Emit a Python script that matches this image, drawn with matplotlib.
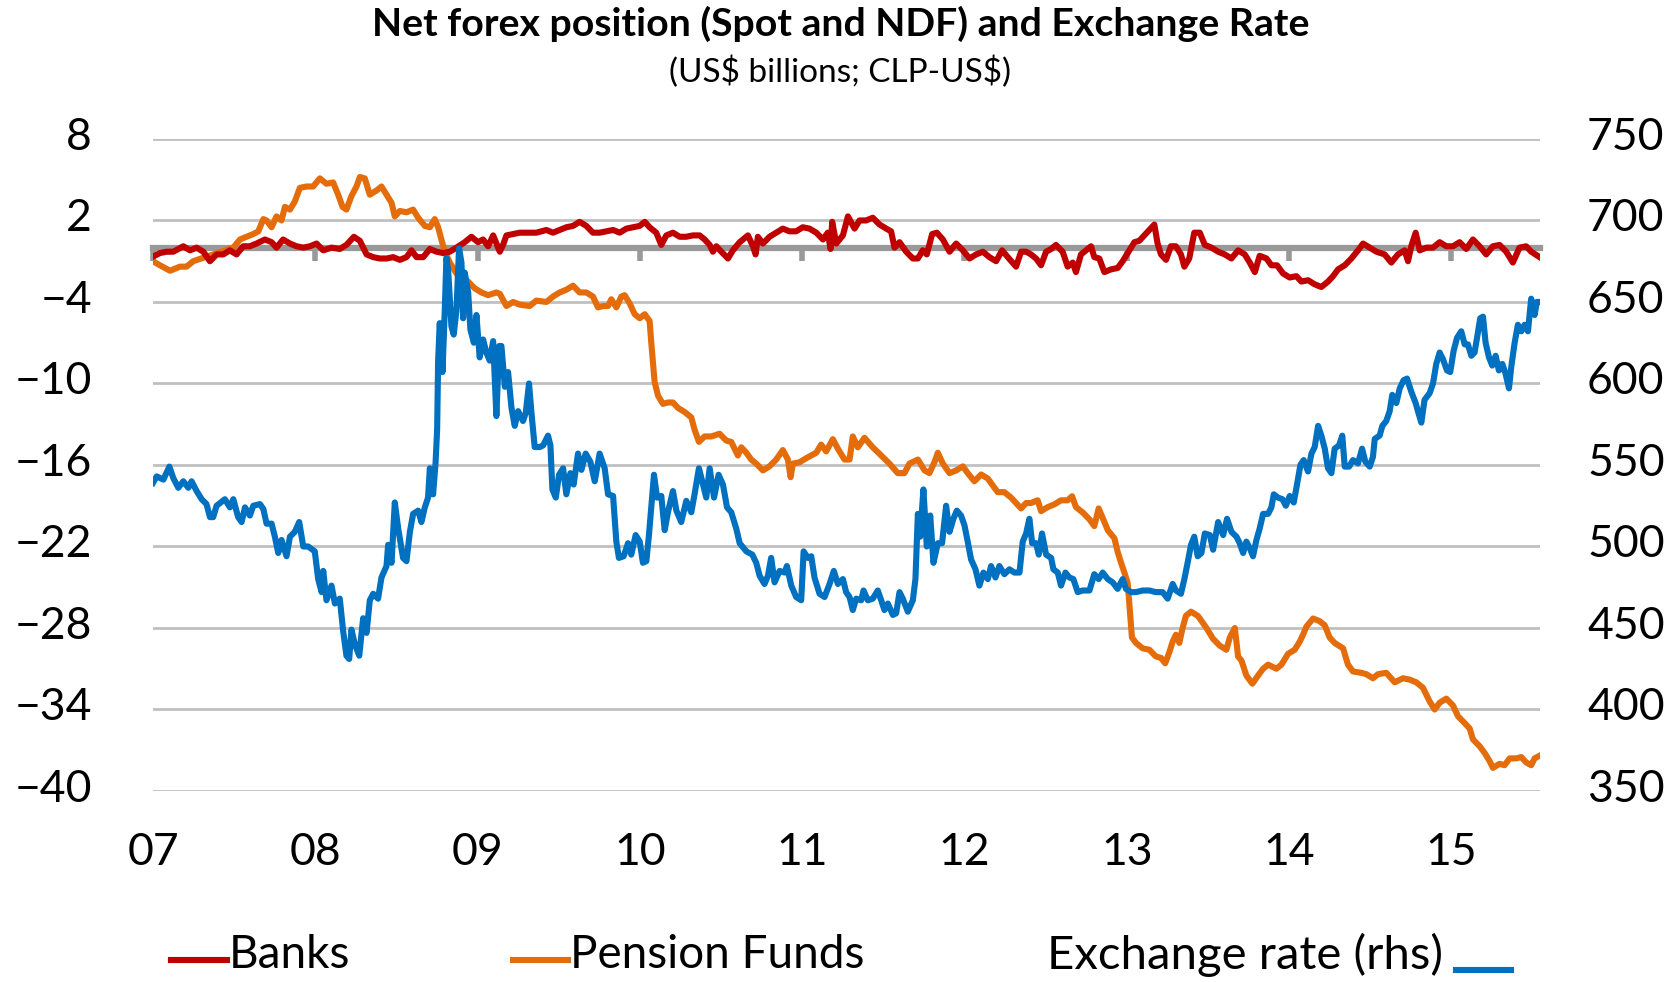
import numpy as np
import matplotlib.pyplot as plt
import matplotlib.transforms as mtransforms
from matplotlib.lines import Line2D

plt.rcParams['font.family'] = ['Lato', 'DejaVu Sans']

# Banks net forex position (US$ bn)
bank_t = [2007.000, 2007.043, 2007.084, 2007.125, 2007.187, 2007.228, 2007.269, 2007.310, 2007.351, 2007.392,
          2007.433, 2007.474, 2007.515, 2007.556, 2007.597, 2007.638, 2007.690, 2007.731, 2007.761, 2007.802,
          2007.844, 2007.885, 2007.926, 2007.967, 2008.008, 2008.049, 2008.100, 2008.151, 2008.192, 2008.238,
          2008.275, 2008.316, 2008.357, 2008.398, 2008.439, 2008.480, 2008.521, 2008.562, 2008.593, 2008.624,
          2008.665, 2008.706, 2008.747, 2008.788, 2008.829, 2008.870, 2008.921, 2008.962, 2009.003, 2009.034,
          2009.065, 2009.096, 2009.137, 2009.157, 2009.178, 2009.219, 2009.260, 2009.321, 2009.362, 2009.424,
          2009.465, 2009.506, 2009.547, 2009.588, 2009.629, 2009.670, 2009.711, 2009.752, 2009.794, 2009.835,
          2009.876, 2009.917, 2009.958, 2009.999, 2010.030, 2010.060, 2010.101, 2010.132, 2010.163, 2010.204,
          2010.245, 2010.286, 2010.327, 2010.368, 2010.399, 2010.430, 2010.450, 2010.471, 2010.502, 2010.543,
          2010.573, 2010.615, 2010.666, 2010.697, 2010.713, 2010.727, 2010.758, 2010.799, 2010.840, 2010.881,
          2010.922, 2010.963, 2011.004, 2011.045, 2011.087, 2011.128, 2011.158, 2011.175, 2011.185, 2011.210,
          2011.251, 2011.282, 2011.323, 2011.353, 2011.394, 2011.435, 2011.477, 2011.518, 2011.548, 2011.569,
          2011.600, 2011.641, 2011.682, 2011.713, 2011.743, 2011.768, 2011.801, 2011.830, 2011.867, 2011.908,
          2011.949, 2011.990, 2012.031, 2012.072, 2012.113, 2012.154, 2012.195, 2012.232, 2012.267, 2012.318,
          2012.349, 2012.380, 2012.410, 2012.441, 2012.472, 2012.503, 2012.534, 2012.564, 2012.605, 2012.636,
          2012.667, 2012.687, 2012.718, 2012.749, 2012.780, 2012.800, 2012.831, 2012.862, 2012.903, 2012.944,
          2012.975, 2013.016, 2013.047, 2013.077, 2013.108, 2013.139, 2013.170, 2013.190, 2013.211, 2013.242,
          2013.272, 2013.303, 2013.334, 2013.355, 2013.385, 2013.416, 2013.450, 2013.481, 2013.522, 2013.563,
          2013.604, 2013.645, 2013.686, 2013.727, 2013.758, 2013.789, 2013.819, 2013.861, 2013.891, 2013.926,
          2013.963, 2014.004, 2014.045, 2014.076, 2014.117, 2014.158, 2014.199, 2014.240, 2014.271, 2014.302,
          2014.343, 2014.384, 2014.425, 2014.456, 2014.497, 2014.538, 2014.589, 2014.630, 2014.671, 2014.712,
          2014.733, 2014.753, 2014.780, 2014.805, 2014.846, 2014.887, 2014.928, 2014.969, 2015.010, 2015.051,
          2015.092, 2015.133, 2015.174, 2015.215, 2015.256, 2015.297, 2015.338, 2015.379, 2015.420, 2015.461,
          2015.492, 2015.544]
bank_v = [-0.66, -0.4, -0.3, -0.3, 0.1, -0.2, 0.0, -0.3, -1.0, -0.5,
          -0.5, -0.2, -0.5, 0.1, 0.1, 0.3, 0.6, 0.4, 0.0, 0.6,
          0.3, 0.1, 0.0, 0.1, 0.3, -0.2, 0.0, -0.1, 0.2, 0.8,
          0.5, -0.5, -0.7, -0.8, -0.8, -0.7, -0.9, -0.7, -0.2, -0.7,
          -0.7, -0.1, -0.3, -0.4, -0.3, 0.0, 0.4, 0.8, 0.4, 0.6,
          0.1, 0.9, -0.3, 0.2, 0.9, 1.0, 1.1, 1.1, 1.1, 1.3,
          1.1, 1.3, 1.5, 1.6, 1.9, 1.6, 1.1, 1.1, 1.2, 1.3,
          1.1, 1.4, 1.5, 1.6, 1.9, 1.5, 1.1, 0.2, 0.9, 1.1,
          0.8, 0.8, 0.9, 0.9, 0.6, 0.2, -0.3, 0.1, -0.3, -0.8,
          -0.2, 0.4, 0.9, 0.1, -0.5, 0.8, 0.3, 0.8, 1.1, 1.4,
          1.2, 1.2, 1.5, 1.4, 1.1, 0.6, 1.1, -0.1, 1.9, 0.3,
          0.9, 2.3, 1.4, 2.0, 2.0, 2.2, 1.7, 1.4, 1.2, 0.0,
          0.4, -0.3, -0.8, -0.8, -0.2, -0.5, 1.0, 1.1, 0.6, -0.3,
          0.3, -0.2, -0.8, -0.5, -0.3, -0.7, -1.0, -0.2, -0.7, -1.4,
          -0.3, -0.3, -0.5, -0.8, -1.3, -0.3, -0.1, 0.2, -0.3, -1.4,
          -1.1, -1.8, -0.5, -0.2, 0.1, -0.7, -0.8, -1.8, -1.6, -1.5,
          -1.0, -0.2, 0.4, 0.5, 0.9, 1.3, 1.7, 0.3, -0.5, -0.9,
          0.1, 0.1, -0.5, -1.4, -0.8, 1.1, 1.1, 0.2, 0.0, -0.3,
          -0.5, -0.8, -0.2, -0.5, -1.1, -1.8, -0.6, -0.8, -1.3, -1.3,
          -1.9, -2.2, -2.1, -2.5, -2.4, -2.7, -2.9, -2.5, -2.1, -1.6,
          -1.3, -0.8, -0.2, 0.3, 0.0, -0.3, -0.5, -1.1, -0.5, -0.2,
          -1.0, 0.1, 1.1, -0.2, 0.0, 0.0, 0.4, 0.1, 0.1, 0.4,
          -0.1, 0.6, 0.1, -0.5, 0.1, 0.2, -0.3, -1.1, 0.0, 0.1,
          -0.3, -0.7]

# Pension funds net forex position (US$ bn)
pension_t = [2007.000, 2007.043, 2007.105, 2007.166, 2007.207, 2007.248, 2007.310, 2007.371, 2007.433, 2007.495,
             2007.536, 2007.577, 2007.618, 2007.649, 2007.680, 2007.700, 2007.731, 2007.761, 2007.792, 2007.813,
             2007.844, 2007.874, 2007.905, 2007.946, 2007.987, 2008.028, 2008.069, 2008.110, 2008.141, 2008.168,
             2008.192, 2008.223, 2008.254, 2008.275, 2008.305, 2008.336, 2008.377, 2008.408, 2008.439, 2008.470,
             2008.490, 2008.521, 2008.562, 2008.603, 2008.634, 2008.675, 2008.706, 2008.736, 2008.757, 2008.777,
             2008.798, 2008.829, 2008.870, 2008.901, 2008.942, 2008.983, 2009.024, 2009.065, 2009.116, 2009.137,
             2009.178, 2009.219, 2009.260, 2009.321, 2009.362, 2009.424, 2009.465, 2009.506, 2009.547, 2009.588,
             2009.629, 2009.670, 2009.711, 2009.742, 2009.773, 2009.804, 2009.824, 2009.855, 2009.886, 2009.906,
             2009.937, 2009.968, 2009.999, 2010.030, 2010.060, 2010.071, 2010.091, 2010.112, 2010.142, 2010.173,
             2010.204, 2010.235, 2010.276, 2010.317, 2010.337, 2010.364, 2010.399, 2010.440, 2010.491, 2010.532,
             2010.563, 2010.604, 2010.625, 2010.656, 2010.686, 2010.717, 2010.758, 2010.799, 2010.840, 2010.881,
             2010.912, 2010.929, 2010.943, 2010.984, 2011.025, 2011.056, 2011.087, 2011.117, 2011.148, 2011.189,
             2011.220, 2011.261, 2011.292, 2011.312, 2011.343, 2011.384, 2011.435, 2011.487, 2011.538, 2011.589,
             2011.630, 2011.661, 2011.713, 2011.754, 2011.784, 2011.815, 2011.836, 2011.867, 2011.908, 2011.949,
             2011.990, 2012.020, 2012.061, 2012.103, 2012.144, 2012.174, 2012.205, 2012.246, 2012.287, 2012.318,
             2012.349, 2012.380, 2012.410, 2012.451, 2012.472, 2012.513, 2012.554, 2012.595, 2012.636, 2012.663,
             2012.687, 2012.729, 2012.770, 2012.800, 2012.827, 2012.852, 2012.883, 2012.924, 2012.944, 2012.965,
             2012.985, 2013.006, 2013.020, 2013.032, 2013.057, 2013.098, 2013.139, 2013.180, 2013.211, 2013.237,
             2013.262, 2013.283, 2013.303, 2013.324, 2013.344, 2013.365, 2013.396, 2013.437, 2013.450, 2013.491,
             2013.532, 2013.573, 2013.614, 2013.635, 2013.666, 2013.686, 2013.707, 2013.737, 2013.774, 2013.809,
             2013.840, 2013.871, 2013.922, 2013.953, 2013.994, 2014.035, 2014.066, 2014.086, 2014.107, 2014.148,
             2014.189, 2014.220, 2014.250, 2014.281, 2014.333, 2014.363, 2014.394, 2014.445, 2014.476, 2014.517,
             2014.548, 2014.599, 2014.651, 2014.702, 2014.743, 2014.784, 2014.825, 2014.866, 2014.897, 2014.928,
             2014.969, 2015.010, 2015.041, 2015.082, 2015.113, 2015.133, 2015.174, 2015.205, 2015.236, 2015.256,
             2015.297, 2015.328, 2015.359, 2015.400, 2015.431, 2015.461, 2015.492, 2015.513, 2015.544]
pension_v = [-1.0, -1.3, -1.7, -1.4, -1.4, -1.0, -0.75, -0.5, -0.25, 0.0,
             0.6, 0.8, 1.0, 1.2, 2.1, 2.0, 1.5, 2.3, 2.0, 3.0,
             2.8, 3.4, 4.4, 4.5, 4.5, 5.1, 4.7, 4.8, 3.9, 3.0,
             2.8, 3.8, 4.5, 5.2, 5.1, 3.9, 4.2, 4.5, 3.9, 3.3,
             2.3, 2.7, 2.6, 2.8, 2.2, 1.6, 1.5, 2.1, 1.5, 0.6,
             -0.3, -1.1, -1.9, -2.4, -2.5, -3.0, -3.3, -3.5, -3.3, -3.4,
             -4.3, -4.0, -4.2, -4.3, -3.9, -4.0, -3.6, -3.3, -3.1, -2.8,
             -3.3, -3.3, -3.6, -4.4, -4.3, -4.3, -3.8, -4.4, -3.6, -3.5,
             -4.1, -4.9, -5.2, -4.9, -5.4, -7.1, -9.9, -10.9, -11.5, -11.4,
             -11.4, -11.8, -12.1, -12.5, -13.4, -14.3, -13.9, -13.9, -13.7, -14.2,
             -14.3, -15.3, -14.7, -15.1, -15.6, -15.9, -16.4, -16.1, -15.6, -14.9,
             -15.6, -16.9, -15.9, -15.8, -15.5, -15.3, -15.1, -14.5, -15.0, -14.1,
             -14.8, -15.6, -15.6, -13.9, -14.7, -14.0, -14.7, -15.3, -15.9, -16.6,
             -16.6, -15.9, -15.6, -16.4, -16.6, -15.8, -15.1, -15.9, -16.6, -16.4,
             -16.1, -16.6, -17.2, -16.7, -17.0, -17.5, -18.0, -18.0, -18.4, -18.8,
             -19.2, -18.8, -18.8, -18.6, -19.4, -19.1, -18.9, -18.6, -18.6, -18.3,
             -19.1, -19.5, -20.0, -20.5, -19.2, -19.9, -20.8, -21.4, -22.4, -23.2,
             -23.9, -24.7, -26.9, -28.7, -29.1, -29.5, -29.6, -30.1, -30.2, -30.6,
             -29.8, -29.0, -28.5, -29.1, -28.0, -27.1, -26.8, -27.1, -27.3, -28.0,
             -28.8, -29.3, -29.6, -28.7, -28.0, -30.1, -30.4, -31.5, -32.1, -31.5,
             -31.0, -30.7, -31.0, -30.7, -29.9, -29.6, -29.0, -28.5, -27.9, -27.3,
             -27.5, -27.8, -28.7, -29.1, -29.5, -30.7, -31.2, -31.3, -31.4, -31.7,
             -31.4, -31.3, -32.0, -31.7, -31.8, -32.0, -32.4, -33.4, -34.0, -33.5,
             -33.2, -33.7, -34.5, -35.0, -35.4, -36.2, -36.7, -37.2, -37.8, -38.3,
             -38.0, -38.1, -37.6, -37.6, -37.5, -37.9, -38.1, -37.6, -37.4]

# CLP per US$ (right axis)
fx_t = [2007.000, 2007.023, 2007.064, 2007.101, 2007.125, 2007.156, 2007.187, 2007.218, 2007.238, 2007.269,
        2007.300, 2007.330, 2007.351, 2007.371, 2007.392, 2007.443, 2007.474, 2007.495, 2007.525, 2007.546,
        2007.567, 2007.597, 2007.618, 2007.659, 2007.680, 2007.700, 2007.731, 2007.751, 2007.772, 2007.792,
        2007.823, 2007.844, 2007.874, 2007.901, 2007.926, 2007.956, 2007.997, 2008.018, 2008.039, 2008.049,
        2008.069, 2008.100, 2008.121, 2008.151, 2008.172, 2008.192, 2008.209, 2008.223, 2008.244, 2008.271,
        2008.295, 2008.316, 2008.336, 2008.357, 2008.387, 2008.408, 2008.439, 2008.449, 2008.470, 2008.490,
        2008.511, 2008.541, 2008.562, 2008.583, 2008.603, 2008.634, 2008.654, 2008.675, 2008.695, 2008.706,
        2008.726, 2008.741, 2008.751, 2008.757, 2008.767, 2008.784, 2008.798, 2008.808, 2008.819, 2008.839,
        2008.853, 2008.870, 2008.886, 2008.901, 2008.911, 2008.921, 2008.942, 2008.956, 2008.977, 2008.993,
        2009.013, 2009.034, 2009.054, 2009.075, 2009.096, 2009.116, 2009.133, 2009.147, 2009.168, 2009.188,
        2009.209, 2009.229, 2009.250, 2009.280, 2009.297, 2009.317, 2009.332, 2009.352, 2009.383, 2009.404,
        2009.434, 2009.449, 2009.461, 2009.482, 2009.502, 2009.527, 2009.547, 2009.572, 2009.592, 2009.619,
        2009.640, 2009.666, 2009.695, 2009.722, 2009.752, 2009.783, 2009.804, 2009.835, 2009.855, 2009.871,
        2009.900, 2009.927, 2009.947, 2009.974, 2009.999, 2010.019, 2010.040, 2010.056, 2010.077, 2010.087,
        2010.106, 2010.132, 2010.153, 2010.173, 2010.204, 2010.225, 2010.255, 2010.286, 2010.317, 2010.337,
        2010.364, 2010.389, 2010.409, 2010.430, 2010.457, 2010.485, 2010.512, 2010.537, 2010.563, 2010.594,
        2010.615, 2010.656, 2010.693, 2010.717, 2010.738, 2010.768, 2010.789, 2010.809, 2010.830, 2010.861,
        2010.892, 2010.906, 2010.933, 2010.963, 2010.994, 2011.009, 2011.035, 2011.056, 2011.076, 2011.107,
        2011.138, 2011.169, 2011.195, 2011.220, 2011.251, 2011.271, 2011.292, 2011.312, 2011.333, 2011.364,
        2011.378, 2011.405, 2011.435, 2011.466, 2011.487, 2011.507, 2011.528, 2011.559, 2011.579, 2011.600,
        2011.620, 2011.651, 2011.682, 2011.698, 2011.713, 2011.727, 2011.747, 2011.768, 2011.789, 2011.809,
        2011.836, 2011.862, 2011.887, 2011.908, 2011.932, 2011.953, 2011.979, 2012.000, 2012.020, 2012.041,
        2012.068, 2012.092, 2012.117, 2012.144, 2012.164, 2012.191, 2012.215, 2012.246, 2012.277, 2012.308,
        2012.339, 2012.359, 2012.380, 2012.400, 2012.417, 2012.441, 2012.458, 2012.478, 2012.503, 2012.534,
        2012.548, 2012.575, 2012.595, 2012.622, 2012.646, 2012.671, 2012.698, 2012.729, 2012.770, 2012.800,
        2012.827, 2012.852, 2012.883, 2012.913, 2012.944, 2012.975, 2012.995, 2013.026, 2013.057, 2013.098,
        2013.139, 2013.180, 2013.221, 2013.252, 2013.283, 2013.303, 2013.334, 2013.355, 2013.375, 2013.396,
        2013.416, 2013.437, 2013.460, 2013.481, 2013.512, 2013.532, 2013.563, 2013.594, 2013.618, 2013.645,
        2013.676, 2013.696, 2013.717, 2013.737, 2013.758, 2013.778, 2013.799, 2013.819, 2013.840, 2013.871,
        2013.891, 2013.906, 2013.932, 2013.959, 2013.980, 2014.004, 2014.029, 2014.049, 2014.070, 2014.090,
        2014.117, 2014.138, 2014.158, 2014.179, 2014.199, 2014.220, 2014.240, 2014.261, 2014.281, 2014.308,
        2014.328, 2014.343, 2014.370, 2014.394, 2014.425, 2014.450, 2014.470, 2014.497, 2014.517, 2014.528,
        2014.558, 2014.575, 2014.599, 2014.620, 2014.636, 2014.661, 2014.682, 2014.706, 2014.727, 2014.753,
        2014.780, 2014.794, 2014.815, 2014.835, 2014.866, 2014.887, 2014.907, 2014.928, 2014.948, 2014.973,
        2014.993, 2015.014, 2015.035, 2015.061, 2015.082, 2015.102, 2015.123, 2015.143, 2015.160, 2015.178,
        2015.195, 2015.211, 2015.232, 2015.252, 2015.273, 2015.293, 2015.314, 2015.334, 2015.355, 2015.369,
        2015.390, 2015.410, 2015.431, 2015.451, 2015.472, 2015.492, 2015.513, 2015.527, 2015.544]
fx_v = [539, 543, 541, 549, 542, 536, 540, 536, 540, 534,
        529, 526, 518, 518, 525, 529, 524, 529, 518, 515,
        524, 519, 525, 526, 523, 514, 514, 506, 496, 504,
        494, 506, 509, 515, 500, 500, 497, 480, 472, 485,
        467, 476, 465, 468, 448, 433, 431, 449, 440, 433,
        456, 447, 467, 471, 468, 481, 488, 501, 490, 527,
        511, 493, 491, 509, 520, 522, 515, 524, 530, 548,
        532, 551, 572, 614, 637, 607, 645, 677, 669, 635,
        630, 645, 683, 674, 640, 668, 656, 633, 625, 642,
        616, 627, 619, 614, 626, 580, 623, 623, 598, 607,
        585, 574, 583, 577, 582, 600, 582, 561, 561, 562,
        568, 562, 535, 530, 544, 548, 532, 545, 538, 557,
        547, 557, 552, 540, 557, 548, 532, 531, 503, 493,
        494, 502, 495, 507, 503, 490, 491, 507, 532, 544,
        530, 531, 510, 521, 534, 522, 515, 528, 521, 532,
        548, 538, 530, 548, 530, 544, 538, 524, 521, 511,
        502, 497, 495, 490, 482, 477, 482, 493, 478, 485,
        484, 488, 476, 469, 467, 497, 493, 494, 481, 471,
        469, 477, 485, 477, 480, 472, 469, 461, 468, 467,
        473, 467, 468, 473, 467, 461, 465, 458, 459, 472,
        468, 460, 467, 480, 520, 506, 535, 500, 519, 490,
        502, 502, 525, 509, 517, 522, 519, 513, 503, 492,
        486, 476, 484, 480, 488, 481, 488, 483, 486, 484,
        484, 503, 508, 517, 502, 502, 495, 508, 495, 493,
        486, 484, 476, 484, 481, 480, 472, 473, 473, 483,
        480, 484, 480, 478, 474, 480, 474, 472, 472, 473,
        473, 472, 472, 468, 477, 473, 471, 480, 490, 501,
        506, 494, 496, 508, 507, 498, 515, 507, 517, 509,
        506, 502, 496, 503, 499, 494, 504, 511, 520, 520,
        524, 532, 530, 529, 525, 531, 527, 538, 550, 553,
        546, 557, 561, 574, 568, 560, 548, 545, 560, 562,
        568, 549, 549, 553, 551, 560, 552, 549, 555, 566,
        568, 574, 577, 583, 593, 588, 597, 602, 603, 595,
        588, 583, 576, 590, 594, 600, 612, 619, 615, 608,
        607, 620, 628, 632, 624, 624, 617, 619, 629, 640,
        641, 625, 616, 611, 617, 608, 612, 606, 597, 610,
        625, 636, 632, 636, 632, 652, 642, 650, 650]

year_ticks = [2007, 2008, 2009, 2010, 2011, 2012, 2013, 2014, 2015]
year_labels = ['07', '08', '09', '10', '11', '12', '13', '14', '15']
left_ticks = [-40, -34, -28, -22, -16, -10, -4, 2, 8]
right_ticks = [350, 400, 450, 500, 550, 600, 650, 700, 750]

c_bank = '#C00000'
c_pension = '#E46C0A'
c_fx = '#0070C0'
grey = '#999999'
lw = 4.4

fig = plt.figure(figsize=(16.81, 9.82), dpi=100)
ax = fig.add_axes([0.091, 0.1945, 0.825, 0.664])
ax2 = ax.twinx()

ax.plot(pension_t, pension_v, color=c_pension, lw=lw, zorder=3, solid_joinstyle='round')
ax.plot(bank_t, bank_v, color=c_bank, lw=lw, zorder=4, solid_joinstyle='round')
ax2.plot(fx_t, fx_v, color=c_fx, lw=lw, solid_joinstyle='round')

ax.set_xlim(2007, 2015.545)
ax.set_ylim(-40, 8)
ax2.set_ylim(350, 750)

ax.set_yticks(left_ticks)
ax.set_yticklabels([str(v).replace('-', '\u2212') for v in left_ticks])
ax2.set_yticks(right_ticks)
ax.yaxis.grid(True, color='#C0C0C0', lw=2)
ax.set_axisbelow(True)
ax.tick_params(axis='y', length=0, pad=44, labelsize=32)
ax2.tick_params(axis='y', length=0, pad=34, labelsize=32)
# labels sit slightly above their gridlines in the original
shift = mtransforms.ScaledTranslation(0, 4 / 72, fig.dpi_scale_trans)
for lab in ax.get_yticklabels() + ax2.get_yticklabels():
    lab.set_transform(lab.get_transform() + shift)

for a in (ax, ax2):
    for s in ('top', 'left', 'right'):
        a.spines[s].set_visible(False)
ax2.spines['bottom'].set_visible(False)

# category axis crosses at zero
ax.spines['bottom'].set_position(('data', 0))
ax.spines['bottom'].set_color(grey)
ax.spines['bottom'].set_linewidth(4.5)
ax.spines['bottom'].set_zorder(2)
ax.set_xticks(year_ticks)
ax.tick_params(axis='x', direction='out', length=9, width=4, color=grey, labelbottom=False)

trans = mtransforms.blended_transform_factory(ax.transData, ax.transAxes)
for yr, lab in zip(year_ticks, year_labels):
    ax.text(yr, -0.094, lab, transform=trans, ha='center', va='center', fontsize=32)

fig.text(0.5, 0.976, 'Net forex position (Spot and NDF) and Exchange Rate',
         ha='center', va='center', fontsize=28.3, fontweight='bold')
fig.text(0.5, 0.927, '(US\\$ billions; CLP-US\\$)', ha='center', va='center', fontsize=24)

# legend drawn by hand, as in the original
ly = 0.028
fig.add_artist(Line2D([0.102, 0.135], [ly - 0.006, ly - 0.006], color=c_bank, lw=lw))
fig.text(0.136, ly, 'Banks', ha='left', va='center', fontsize=33)
fig.add_artist(Line2D([0.305, 0.338], [ly - 0.006, ly - 0.006], color=c_pension, lw=lw))
fig.text(0.339, ly, 'Pension Funds', ha='left', va='center', fontsize=33)
fig.text(0.623, ly, 'Exchange rate (rhs)', ha='left', va='center', fontsize=34)
fig.add_artist(Line2D([0.866, 0.899], [ly - 0.016, ly - 0.016], color=c_fx, lw=lw))

fig.savefig('out.png', dpi=100)
